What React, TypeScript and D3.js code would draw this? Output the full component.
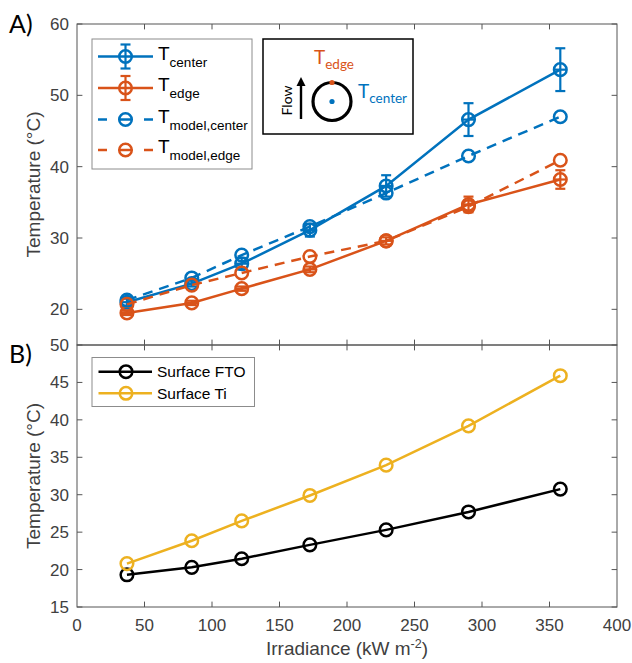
import React from "react";
import * as d3 from "d3";

const irradiance = [37, 85, 122, 172.5, 229, 290, 358];
const tCenter = [21.0, 23.6, 26.4, 31.1, 37.3, 46.6, 53.6];
const tCenterErr = [0.5, 0.4, 0.8, 0.9, 1.5, 2.3, 3.0];
const tEdge = [19.5, 20.9, 22.9, 25.6, 29.6, 34.7, 38.2];
const tEdgeErr = [0.3, 0.3, 0.3, 0.4, 0.5, 1.1, 1.3];
const tModelCenter = [21.3, 24.4, 27.6, 31.6, 36.3, 41.5, 47.0];
const tModelEdge = [20.7, 23.4, 25.1, 27.4, 29.6, 34.4, 40.9];
const surfaceFTO = [19.3, 20.3, 21.45, 23.3, 25.3, 27.7, 30.75];
const surfaceTi = [20.8, 23.85, 26.5, 29.9, 33.95, 39.2, 45.9];

const xTicks = [0, 50, 100, 150, 200, 250, 300, 350, 400];
const yTicksTop = [20, 30, 40, 50, 60];
const yTicksBottom = [15, 20, 25, 30, 35, 40, 45, 50];

const BLUE = "#0072BD";
const ORANGE = "#D95319";
const YELLOW = "#EDB120";
const BLACK = "#000000";
const AXIS = "#555555";
const TEXT = "#404040";
const FONT = "'Liberation Sans', Arial, sans-serif";
const CAL = "Lato, 'Open Sans', sans-serif";

const L = 77, R = 617;
const x = d3.scaleLinear().domain([0, 400]).range([L, R]);
const yTop = d3.scaleLinear().domain([15, 60]).range([345, 24]);
const yBot = d3.scaleLinear().domain([15, 50]).range([607, 345]);

type Sc = d3.ScaleLinear<number, number>;

function Axes({ y, yTicks, showX, top, bottom }: { y: Sc; yTicks: number[]; showX: boolean; top: number; bottom: number }) {
  const tl = 5.4;
  return (
    <g>
      <rect x={L} y={top} width={R - L} height={bottom - top} fill="none" stroke={AXIS} strokeWidth={1} />
      {xTicks.slice(1, -1).map((t) => (
        <g key={"x" + t}>
          <line x1={x(t)} x2={x(t)} y1={bottom} y2={bottom - tl} stroke={AXIS} />
          <line x1={x(t)} x2={x(t)} y1={top} y2={top + tl} stroke={AXIS} />
        </g>
      ))}
      {showX && xTicks.map((t) => (
        <text key={"xl" + t} x={x(t)} y={bottom + 24} textAnchor="middle" fontFamily={FONT} fontSize={17} fill={TEXT}>{t}</text>
      ))}
      {yTicks.map((t) => (
        <g key={"y" + t}>
          <line x1={L} x2={L + tl} y1={y(t)} y2={y(t)} stroke={AXIS} />
          <line x1={R} x2={R - tl} y1={y(t)} y2={y(t)} stroke={AXIS} />
          <text x={L - 8} y={y(t) + 6} textAnchor="end" fontFamily={FONT} fontSize={17} fill={TEXT}>{t}</text>
        </g>
      ))}
    </g>
  );
}

function Series({ xs, ys, y, color, dashed, err }: { xs: number[]; ys: number[]; y: Sc; color: string; dashed?: boolean; err?: number[] }) {
  const line = d3.line<number>().x((_, i) => x(xs[i])).y((d) => y(d));
  const cap = 5;
  return (
    <g>
      <path d={line(ys) || ""} fill="none" stroke={color} strokeWidth={2.5} strokeDasharray={dashed ? "10 7" : undefined} />
      {err && ys.map((v, i) => (
        <g key={"e" + i} stroke={color} strokeWidth={2.2}>
          <line x1={x(xs[i])} x2={x(xs[i])} y1={y(v - err[i])} y2={y(v + err[i])} />
          <line x1={x(xs[i]) - cap} x2={x(xs[i]) + cap} y1={y(v - err[i])} y2={y(v - err[i])} />
          <line x1={x(xs[i]) - cap} x2={x(xs[i]) + cap} y1={y(v + err[i])} y2={y(v + err[i])} />
        </g>
      ))}
      {err && ys.map((v, i) => (
        <line key={"h" + i} x1={x(xs[i]) - 6} x2={x(xs[i]) + 6} y1={y(v)} y2={y(v)} stroke={color} strokeWidth={2.2} />
      ))}
      {ys.map((v, i) => (
        <circle key={"c" + i} cx={x(xs[i])} cy={y(v)} r={6.3} fill="none" stroke={color} strokeWidth={2.5} />
      ))}
    </g>
  );
}

function LegendEntry({ yc, color, dashed, err, main, sub }: { yc: number; color: string; dashed?: boolean; err?: boolean; main: string; sub?: string }) {
  const x1 = 98, x2 = 153, xm = 125.5;
  return (
    <g>
      {dashed ? (
        <g stroke={color} strokeWidth={2.5}>
          <line x1={x1} x2={x1 + 9} y1={yc} y2={yc} />
          <line x1={xm - 6} x2={xm + 6} y1={yc} y2={yc} />
          <line x1={x2 - 9} x2={x2} y1={yc} y2={yc} />
        </g>
      ) : (
        <line x1={x1} x2={x2} y1={yc} y2={yc} stroke={color} strokeWidth={2.5} />
      )}
      {err && (
        <g stroke={color} strokeWidth={2.2}>
          <line x1={xm} x2={xm} y1={yc - 12} y2={yc + 12} />
          <line x1={xm - 5} x2={xm + 5} y1={yc - 12} y2={yc - 12} />
          <line x1={xm - 5} x2={xm + 5} y1={yc + 12} y2={yc + 12} />
        </g>
      )}
      <circle cx={xm} cy={yc} r={6.3} fill="none" stroke={color} strokeWidth={2.5} />
      <text x={158} y={yc + 3} fontFamily={FONT} fontSize={19} fill="#000">
        {main}
        {sub && <tspan dy={7} fontSize={13.5}>{sub}</tspan>}
      </text>
    </g>
  );
}

export default function App() {
  const bx = (v: number) => x(v);
  return (
    <svg width={632} height={663} style={{ position: "absolute", left: 0, top: 0, background: "#fff" }}>
      <rect x={0} y={0} width={632} height={663} fill="#fff" />
      {/* Panel A */}
      <Axes y={yTop} yTicks={yTicksTop} showX={false} top={24} bottom={345} />
      <Series xs={irradiance} ys={tCenter} y={yTop} color={BLUE} err={tCenterErr} />
      <Series xs={irradiance} ys={tEdge} y={yTop} color={ORANGE} err={tEdgeErr} />
      <Series xs={irradiance} ys={tModelCenter} y={yTop} color={BLUE} dashed />
      <Series xs={irradiance} ys={tModelEdge} y={yTop} color={ORANGE} dashed />

      {/* Panel B */}
      <Axes y={yBot} yTicks={yTicksBottom} showX={true} top={345} bottom={607} />
      <Series xs={irradiance} ys={surfaceFTO} y={yBot} color={BLACK} />
      <Series xs={irradiance} ys={surfaceTi} y={yBot} color={YELLOW} />

      {/* Legend A */}
      <rect x={92} y={39} width={160} height={130} fill="#fff" stroke="#8c8c8c" strokeWidth={1} />
      <LegendEntry yc={56.5} color={BLUE} err main="T" sub="center" />
      <LegendEntry yc={88} color={ORANGE} err main="T" sub="edge" />
      <LegendEntry yc={119.5} color={BLUE} dashed main="T" sub="model,center" />
      <LegendEntry yc={150} color={ORANGE} dashed main="T" sub="model,edge" />

      {/* Inset */}
      <rect x={263} y={39} width={150} height={95} fill="#fff" stroke="#000" strokeWidth={1.5} />
      <circle cx={332} cy={101.5} r={19} fill="none" stroke="#000" strokeWidth={3.2} />
      <circle cx={332} cy={82.5} r={2.6} fill={ORANGE} />
      <circle cx={332} cy={101.5} r={2.6} fill={BLUE} />
      <line x1={301} x2={301} y1={119} y2={84} stroke="#000" strokeWidth={2.4} />
      <path d="M296.5,86 L301,77 L305.5,86 Z" fill="#000" />
      <text transform="translate(292,100.5) rotate(-90)" textAnchor="middle" fontFamily={CAL} fontSize={14} fill="#000">Flow</text>
      <text x={314} y={64} fontFamily={CAL} fontSize={19} fill={ORANGE}>
        T<tspan dy={5} fontSize={13.5}>edge</tspan>
      </text>
      <text x={358} y={98} fontFamily={CAL} fontSize={19} fill={BLUE}>
        T<tspan dy={5} fontSize={13.5}>center</tspan>
      </text>

      {/* Legend B */}
      <rect x={92} y={357.5} width={162.5} height={49} fill="#fff" stroke="#8c8c8c" strokeWidth={1} />
      <line x1={98.5} x2={152} y1={371.7} y2={371.7} stroke={BLACK} strokeWidth={2.5} />
      <circle cx={126} cy={371.7} r={6.3} fill="none" stroke={BLACK} strokeWidth={2.5} />
      <text x={157} y={377.2} fontFamily={FONT} fontSize={15.5} fill="#000">Surface FTO</text>
      <line x1={98.5} x2={152} y1={393.3} y2={393.3} stroke={YELLOW} strokeWidth={2.5} />
      <circle cx={126} cy={393.3} r={6.3} fill="none" stroke={YELLOW} strokeWidth={2.5} />
      <text x={157} y={398.8} fontFamily={FONT} fontSize={15.5} fill="#000">Surface Ti</text>

      {/* Labels */}
      <text transform={`translate(40,${(24 + 345) / 2}) rotate(-90)`} textAnchor="middle" fontFamily={FONT} fontSize={19} fill={TEXT}>Temperature (°C)</text>
      <text transform={`translate(40,${(345 + 607) / 2}) rotate(-90)`} textAnchor="middle" fontFamily={FONT} fontSize={19} fill={TEXT}>Temperature (°C)</text>
      <text x={bx(200)} y={655} textAnchor="middle" fontFamily={FONT} fontSize={19} fill={TEXT}>
        Irradiance (kW m<tspan dy={-7} fontSize={12.5}>-2</tspan><tspan dy={7}>)</tspan>
      </text>
      <text x={9} y={33} fontFamily={CAL} fontSize={25} fill="#000">A)</text>
      <text x={9} y={363} fontFamily={CAL} fontSize={25} fill="#000">B)</text>
    </svg>
  );
}
